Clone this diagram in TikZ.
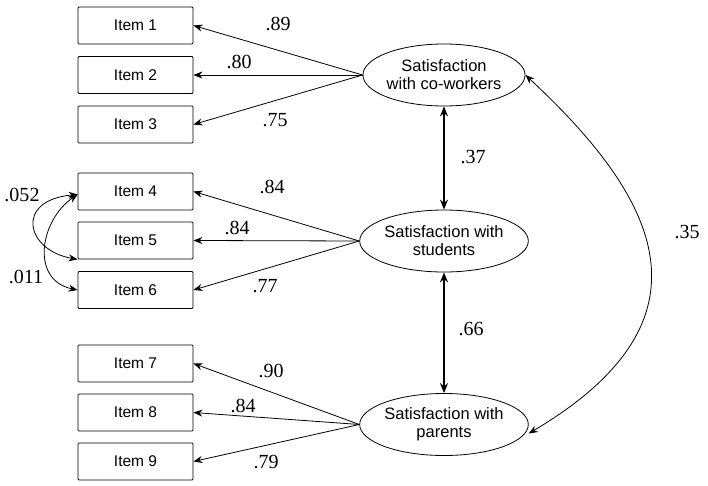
\documentclass[tikz,border=0pt]{standalone}
\usepackage{fontspec}
\setmainfont{Liberation Serif}
\setsansfont{Liberation Sans}
\usetikzlibrary{shapes.geometric,arrows.meta}
\begin{document}
\begin{tikzpicture}[x=1pt,y=-1pt,
  itembox/.style={draw,line width=0.8pt,rounded corners=1pt,minimum width=115pt,minimum height=37pt,inner sep=0pt,font=\sffamily\fontsize{15.5}{18}\selectfont},
  latent/.style={draw,ellipse,line width=0.8pt,minimum width=158pt,minimum height=62pt,inner sep=0pt,align=center,font=\sffamily\fontsize{16.5}{18}\selectfont},
  load/.style={-{Stealth[length=9pt,width=7pt]},line width=0.8pt},
  cov/.style={{Stealth[length=9pt,width=7pt]}-{Stealth[length=9pt,width=7pt]},line width=0.8pt},
  corr/.style={{Stealth[length=10pt,width=8pt]}-{Stealth[length=10pt,width=8pt]},line width=1.4pt},
  coef/.style={font=\fontsize{20}{22}\selectfont,inner sep=0pt}]
\useasboundingbox (0,0) rectangle (708,486);
\node[itembox] (i1) at (135.5,25.5) {Item 1};
\node[itembox] (i2) at (135.5,75) {Item 2};
\node[itembox] (i3) at (135.5,124.5) {Item 3};
\node[itembox] (i4) at (135.5,191.5) {Item 4};
\node[itembox] (i5) at (135.5,240.5) {Item 5};
\node[itembox] (i6) at (135.5,290) {Item 6};
\node[itembox] (i7) at (135.5,363.5) {Item 7};
\node[itembox] (i8) at (135.5,412.5) {Item 8};
\node[itembox] (i9) at (135.5,461.5) {Item 9};
\node[latent] (cw) at (444,75) {Satisfaction\\with co-workers};
\node[latent] (st) at (444,241) {Satisfaction with\\students};
\node[latent] (pa) at (444,424.5) {Satisfaction with\\parents};
% loadings
\draw[load] (cw.west) -- (i1.east);
\draw[load] (cw.west) -- (i2.east);
\draw[load] (cw.west) -- (i3.east);
\draw[load] (st.west) -- (i4.east);
\draw[load] (st.west) -- (i5.east);
\draw[load] (st.west) -- (i6.east);
\draw[load] (pa.west) -- (i7.east);
\draw[load] (pa.west) -- (i8.east);
\draw[load] (pa.west) -- (i9.east);
\node[coef] at (278,24) {.89};
\node[coef] at (239,62) {.80};
\node[coef] at (275,120) {.75};
\node[coef] at (272,187) {.84};
\node[coef] at (237,228) {.84};
\node[coef] at (265,286) {.77};
\node[coef] at (271,371) {.90};
\node[coef] at (243,406) {.84};
\node[coef] at (266,462) {.79};
% error covariances
\draw[cov] ([yshift=-3pt]i4.west) .. controls (15,200) and (25,250) .. (i5.south west);
\draw[cov] ([yshift=-3pt]i4.west) .. controls (40,220) and (30,280) .. (i6.west);
\node[coef] at (22,195) {.052};
\node[coef] at (26,277) {.011};
% factor correlations
\draw[corr] (cw.south) -- (st.north);
\draw[corr] (st.south) -- (pa.north);
\node[coef] at (473,157) {.37};
\node[coef] at (471,329) {.66};
\draw[cov] (cw.east) .. controls (660,200) and (720,320) .. ([yshift=-9pt]pa.east);
\node[coef] at (687,232) {.35};
\end{tikzpicture}
\end{document}
